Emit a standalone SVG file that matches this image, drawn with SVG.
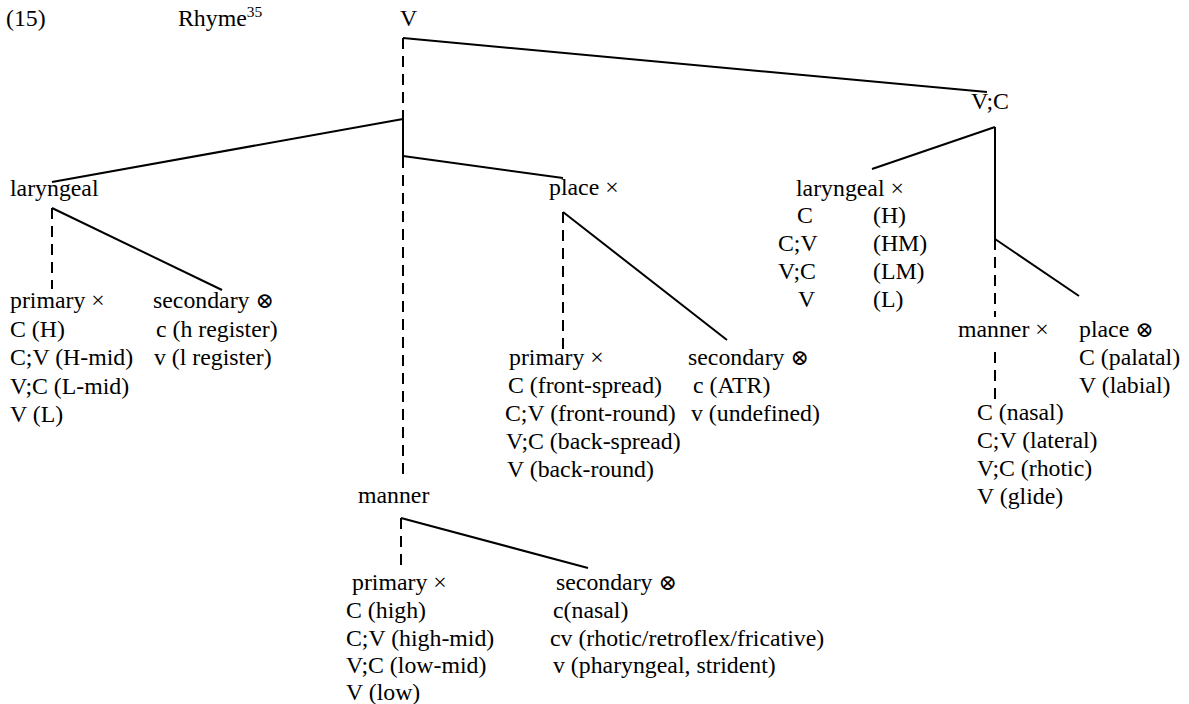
<svg xmlns="http://www.w3.org/2000/svg" width="1189" height="704" viewBox="0 0 1189 704">
  <style>
    text { font-family: "Liberation Serif", "Times New Roman", serif; font-size: 23.8px; fill: #000; }
    .sup { font-size: 15.5px; }
    .otimes { font-family: "DejaVu Serif", "Liberation Serif", serif; font-size: 22px; }
    line { stroke: #000; stroke-width: 2; fill: none; }
    .dash { stroke-dasharray: 11 7; }
  </style>
  <rect width="1189" height="704" fill="#fff"/>

  <!-- tree branches -->
  <g id="connectors">
    <!-- root V spine -->
    <line class="dash" x1="403" y1="38" x2="403" y2="119"/>
    <line x1="403" y1="119" x2="403" y2="157"/>
    <line class="dash" x1="403" y1="157" x2="403" y2="478"/>
    <line x1="403" y1="38" x2="987" y2="92"/>
    <line x1="52" y1="182" x2="403" y2="119"/>
    <line x1="403" y1="156" x2="563" y2="178"/>
    <!-- laryngeal -->
    <line class="dash" x1="52" y1="208" x2="52" y2="289"/>
    <line x1="52" y1="208" x2="222" y2="290"/>
    <!-- place -->
    <line class="dash" x1="563" y1="212" x2="563" y2="350"/>
    <line x1="563" y1="212" x2="727" y2="340"/>
    <!-- manner -->
    <line class="dash" x1="401" y1="518" x2="401" y2="565"/>
    <line x1="401" y1="518" x2="588" y2="568"/>
    <!-- V;C -->
    <line x1="872" y1="169" x2="995" y2="127"/>
    <line x1="995" y1="127" x2="995" y2="239"/>
    <line class="dash" x1="995" y1="239" x2="995" y2="317"/>
    <line x1="995" y1="239" x2="1079" y2="296"/>
    <line class="dash" x1="995" y1="352" x2="995" y2="400"/>
  </g>

  <g id="example-number"><text x="6" y="26">(15)</text></g>
  <g id="title"><text x="178" y="26">Rhyme<tspan class="sup" dy="-9">35</tspan></text></g>
  <g id="node-root"><text x="400" y="26">V</text></g>
  <g id="node-vc"><text x="971" y="109">V;C</text></g>

  <g id="node-laryngeal"><text x="10" y="196">laryngeal</text></g>
  <g id="node-laryngeal-primary">
    <text x="10" y="308">primary ×</text>
    <text x="10" y="336.5">C (H)</text>
    <text x="10" y="365">C;V (H-mid)</text>
    <text x="10" y="393.5">V;C (L-mid)</text>
    <text x="10" y="422">V (L)</text>
  </g>
  <g id="node-laryngeal-secondary">
    <text x="153" y="308">secondary <tspan class="otimes">⊗</tspan></text>
    <text x="156" y="336.5">c (h register)</text>
    <text x="154" y="365">v (l register)</text>
  </g>

  <g id="node-place"><text x="549" y="195">place ×</text></g>
  <g id="node-place-primary">
    <text x="509" y="365">primary ×</text>
    <text x="508" y="393">C (front-spread)</text>
    <text x="505" y="421">C;V (front-round)</text>
    <text x="506" y="449">V;C (back-spread)</text>
    <text x="507" y="477">V (back-round)</text>
  </g>
  <g id="node-place-secondary">
    <text x="688" y="365">secondary <tspan class="otimes">⊗</tspan></text>
    <text x="693" y="393">c (ATR)</text>
    <text x="691" y="421">v (undefined)</text>
  </g>

  <g id="node-manner"><text x="358" y="503">manner</text></g>
  <g id="node-manner-primary">
    <text x="352" y="590">primary ×</text>
    <text x="346" y="618">C (high)</text>
    <text x="346" y="646">C;V (high-mid)</text>
    <text x="346" y="673">V;C (low-mid)</text>
    <text x="346" y="700">V (low)</text>
  </g>
  <g id="node-manner-secondary">
    <text x="556" y="590">secondary <tspan class="otimes">⊗</tspan></text>
    <text x="553" y="618">c(nasal)</text>
    <text x="550" y="646">cv (rhotic/retroflex/fricative)</text>
    <text x="553" y="673">v (pharyngeal, strident)</text>
  </g>

  <g id="node-vc-laryngeal">
    <text x="796" y="196">laryngeal ×</text>
    <text x="797" y="223">C</text>
    <text x="873" y="223">(H)</text>
    <text x="778" y="251">C;V</text>
    <text x="873" y="251">(HM)</text>
    <text x="778" y="279">V;C</text>
    <text x="873" y="279">(LM)</text>
    <text x="798" y="307">V</text>
    <text x="873" y="307">(L)</text>
  </g>
  <g id="node-vc-manner">
    <text x="958" y="337">manner ×</text>
    <text x="977" y="420">C (nasal)</text>
    <text x="977" y="448">C;V (lateral)</text>
    <text x="977" y="476">V;C (rhotic)</text>
    <text x="977" y="504">V (glide)</text>
  </g>
  <g id="node-vc-place">
    <text x="1079" y="337">place <tspan class="otimes">⊗</tspan></text>
    <text x="1079" y="365">C (palatal)</text>
    <text x="1079" y="393">V (labial)</text>
  </g>
</svg>
